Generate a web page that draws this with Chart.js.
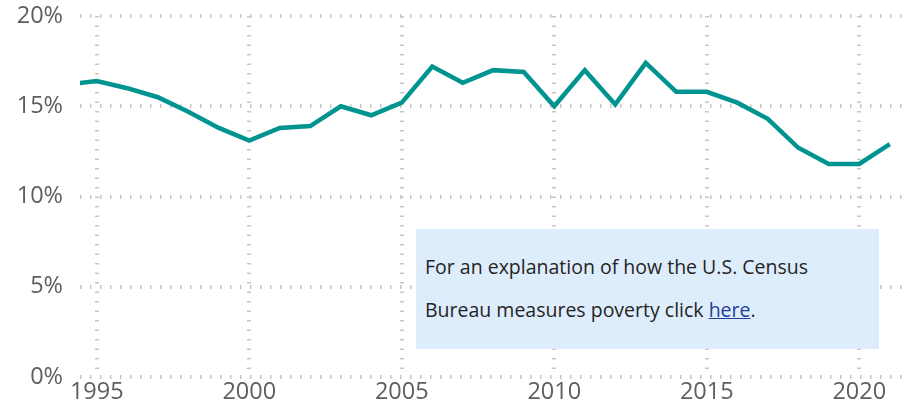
<!DOCTYPE html>
<html>
<head>
<meta charset="utf-8">
<script src="https://cdn.jsdelivr.net/npm/chart.js@4/dist/chart.umd.min.js"></script>
<style>
  body { margin: 0; background: #fff; }
  #wrap { position: relative; width: 917px; height: 414px; }
  #note {
    position: absolute; left: 416px; top: 229px; width: 463px; height: 120px;
    background: #deedfc; box-sizing: border-box; padding: 16px 0 0 9px;
    font-family: "Open Sans", sans-serif; font-size: 19.5px; line-height: 43px; color: #252423;
  }
  #note a { color: #1f3d99; text-decoration: underline; }
</style>
</head>
<body>
<div id="wrap">
  <canvas id="myChart" width="917" height="414"></canvas>
  <div id="note">For an explanation of how the U.S. Census<br>Bureau measures poverty click <a href="#">here</a>.</div>
</div>
<script>
let years = [1994, 1995, 1996, 1997, 1998, 1999, 2000, 2001, 2002, 2003, 2004, 2005, 2006, 2007,
             2008, 2009, 2010, 2011, 2012, 2013, 2014, 2015, 2016, 2017, 2018, 2019, 2020, 2021];
let rates = [16.2, 16.4, 16.0, 15.5, 14.7, 13.8, 13.1, 13.8, 13.9, 15.0, 14.5, 15.2, 17.2, 16.3,
             17.0, 16.9, 15.0, 17.0, 15.1, 17.4, 15.8, 15.8, 15.2, 14.3, 12.7, 11.8, 11.8, 12.9];
let xTicks = [1995, 2000, 2005, 2010, 2015, 2020];
let yTicks = [0, 5, 10, 15, 20];

const points = years.map((y, i) => ({ x: y, y: rates[i] }));
const gridColor = '#c8c6c4';
const labelFont = { family: 'Open Sans', size: 23.5 };

const ctx = document.getElementById('myChart');
new Chart(ctx, {
  type: 'line',
  data: {
    datasets: [{
      data: points,
      borderColor: '#009490',
      borderWidth: 4.5,
      pointRadius: 0,
      tension: 0,
      clip: 0
    }]
  },
  options: {
    responsive: false,
    animation: false,
    layout: { padding: { top: 16, right: 12, left: 0, bottom: 0 } },
    plugins: { legend: { display: false }, tooltip: { enabled: false } },
    scales: {
      x: {
        type: 'linear',
        min: 1994.45,
        max: 2021.5,
        afterBuildTicks: (scale) => { scale.ticks = xTicks.map(v => ({ value: v })); },
        afterFit: (scale) => { scale.height = 37; scale.paddingLeft = 0; scale.paddingRight = 0; },
        ticks: {
          color: '#605e5c',
          font: labelFont,
          padding: 1,
          maxRotation: 0,
          callback: (v) => String(v)
        },
        grid: { color: gridColor, lineWidth: 4, drawTicks: false },
        border: { display: false, dash: [1.5, 8] }
      },
      y: {
        min: 0,
        max: 20,
        afterBuildTicks: (scale) => { scale.ticks = yTicks.map(v => ({ value: v })); },
        afterFit: (scale) => { scale.width = 80; scale.paddingTop = 0; scale.paddingBottom = 0; },
        ticks: {
          color: '#605e5c',
          font: labelFont,
          padding: 17,
          callback: (v) => v + '%'
        },
        grid: { color: gridColor, lineWidth: 4, drawTicks: false },
        border: { display: false, dash: [1.5, 8.5] }
      }
    }
  }
});
</script>
</body>
</html>
